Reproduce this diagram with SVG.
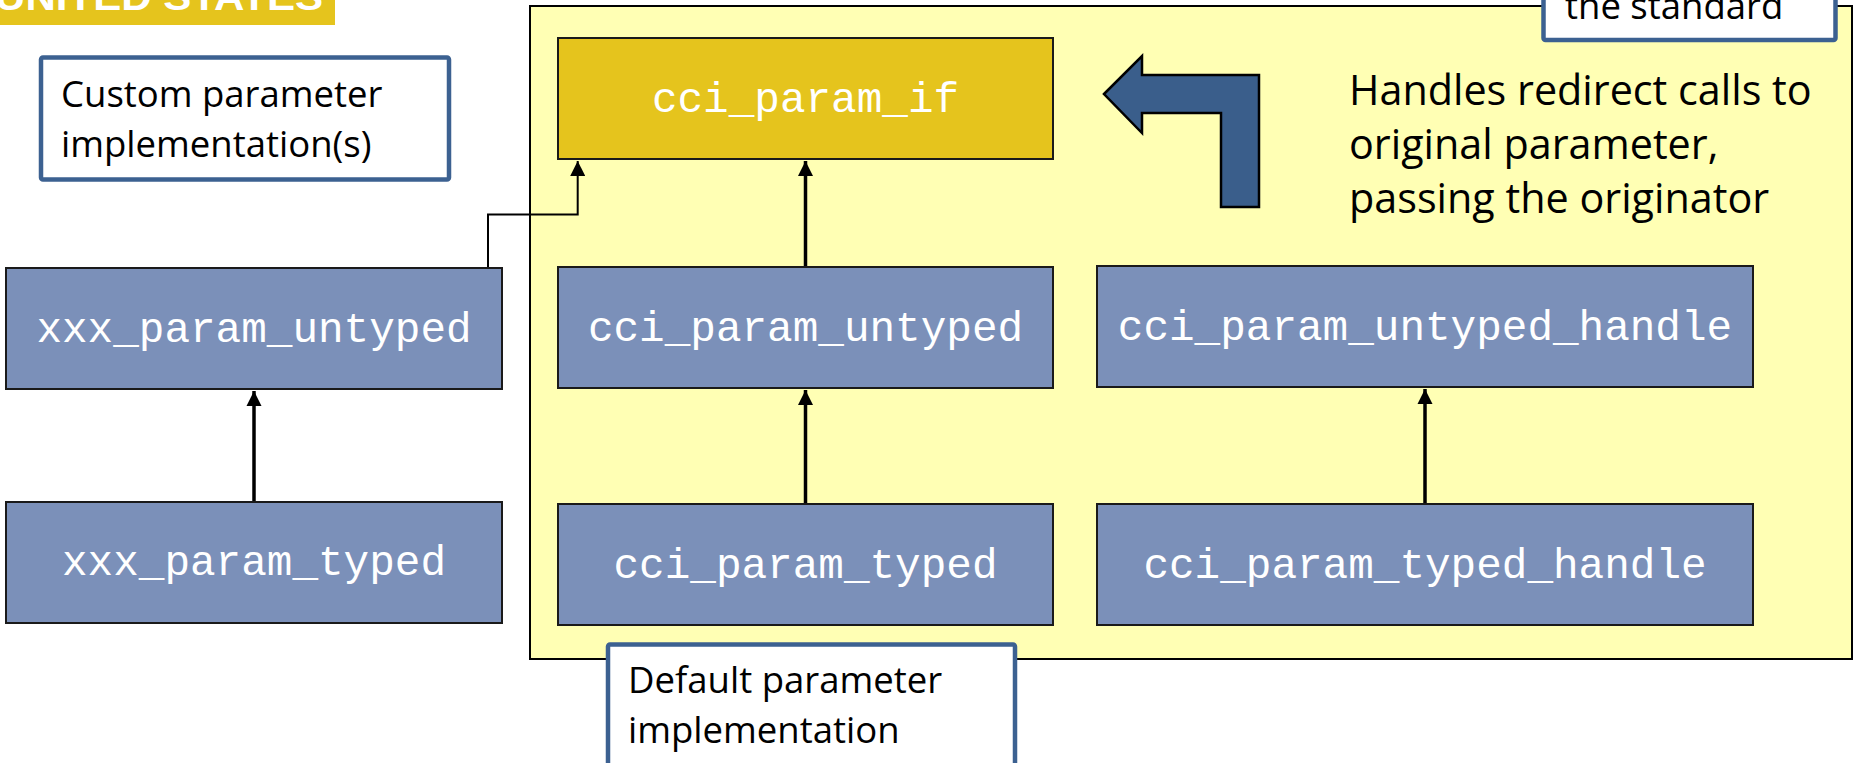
<svg xmlns="http://www.w3.org/2000/svg" width="1854" height="763" viewBox="0 0 1854 763">
<style>
.node{fill:#7b90b9;stroke:#1a1a1a;stroke-width:2}
.ifnode{fill:#e5c41d;stroke:#1a1a1a;stroke-width:2}
.mono{font-family:"Liberation Mono","Courier New",monospace;font-size:42.67px;fill:#ffffff;text-anchor:middle}
.note{fill:#ffffff;stroke:#3c6191;stroke-width:4.5}
.notetext{font-family:"Open Sans","Liberation Sans",sans-serif;font-size:36.5px;fill:#000000}
.big{font-family:"Open Sans","Liberation Sans",sans-serif;font-size:41.3px;fill:#000000}
.conn{fill:none;stroke:#000000;stroke-width:3.5}
.conn2{fill:none;stroke:#000000;stroke-width:2}
</style>
<defs>
<marker id="ah" viewBox="0 0 10 10" refX="10" refY="5" markerWidth="4.4" markerHeight="4.4" orient="auto" markerUnits="strokeWidth">
<path d="M0,0 L10,5 L0,10 Z" fill="#000000"/>
</marker>
<marker id="ah2" viewBox="0 0 10 10" refX="10" refY="5" markerWidth="7.5" markerHeight="7.5" orient="auto" markerUnits="strokeWidth">
<path d="M0,0 L10,5 L0,10 Z" fill="#000000"/>
</marker>
</defs>
<rect x="0" y="0" width="1854" height="763" fill="#ffffff"/>
<g id="logo">
<rect x="0" y="0" width="335" height="25" fill="#e5c41d"/>
<text x="-5" y="10" font-family="Liberation Sans, sans-serif" font-weight="bold" font-size="36" fill="#ffffff" textLength="328" lengthAdjust="spacingAndGlyphs">UNITED STATES</text>
</g>
<g id="container">
<rect x="530" y="6" width="1322" height="653" fill="#ffffb4" stroke="#000000" stroke-width="2"/>
</g>
<g id="connectors">
<line class="conn" x1="805.5" y1="267" x2="805.5" y2="161" marker-end="url(#ah)"/>
<line class="conn" x1="805.5" y1="504" x2="805.5" y2="390" marker-end="url(#ah)"/>
<line class="conn" x1="254" y1="502" x2="254" y2="391" marker-end="url(#ah)"/>
<line class="conn" x1="1425" y1="504" x2="1425" y2="389" marker-end="url(#ah)"/>
<polyline class="conn2" points="488,268 488,214.5 577.7,214.5 577.7,161" marker-end="url(#ah2)"/>
</g>
<g id="cci_param_if">
<rect class="ifnode" x="558" y="38" width="495" height="121"/>
<text class="mono" x="805.5" y="112">cci_param_if</text>
</g>
<g id="xxx_param_untyped">
<rect class="node" x="6" y="268" width="496" height="121"/>
<text class="mono" x="254" y="342">xxx_param_untyped</text>
</g>
<g id="xxx_param_typed">
<rect class="node" x="6" y="502" width="496" height="121"/>
<text class="mono" x="254" y="575">xxx_param_typed</text>
</g>
<g id="cci_param_untyped">
<rect class="node" x="558" y="267" width="495" height="121"/>
<text class="mono" x="805.5" y="341">cci_param_untyped</text>
</g>
<g id="cci_param_typed">
<rect class="node" x="558" y="504" width="495" height="121"/>
<text class="mono" x="805.5" y="578">cci_param_typed</text>
</g>
<g id="cci_param_untyped_handle">
<rect class="node" x="1097" y="266" width="656" height="121"/>
<text class="mono" x="1425" y="340">cci_param_untyped_handle</text>
</g>
<g id="cci_param_typed_handle">
<rect class="node" x="1097" y="504" width="656" height="121"/>
<text class="mono" x="1425" y="578">cci_param_typed_handle</text>
</g>
<g id="redirect_arrow">
<polygon points="1104,94 1142,56 1142,75 1259,75 1259,207 1221,207 1221,113 1142,113 1142,133" fill="#3a5e8b" stroke="#000000" stroke-width="2.5" stroke-linejoin="miter"/>
</g>
<g id="handles_text">
<text class="big"><tspan x="1349" y="105">Handles redirect calls to</tspan><tspan x="1349" y="159">original parameter,</tspan><tspan x="1349" y="213">passing the originator</tspan></text>
</g>
<g id="custom_note">
<rect class="note" x="41" y="57.5" width="408" height="122" rx="2"/>
<text class="notetext"><tspan x="61" y="107">Custom parameter</tspan><tspan x="61" y="157">implementation(s)</tspan></text>
</g>
<g id="default_note">
<rect class="note" x="608" y="644.5" width="407" height="140" rx="2"/>
<text class="notetext"><tspan x="628" y="692.5">Default parameter</tspan><tspan x="628" y="743">implementation</tspan></text>
</g>
<g id="standard_note">
<rect class="note" x="1543.5" y="-60" width="292" height="100" rx="2"/>
<text class="notetext" x="1565" y="19">the standard</text>
</g>
</svg>
